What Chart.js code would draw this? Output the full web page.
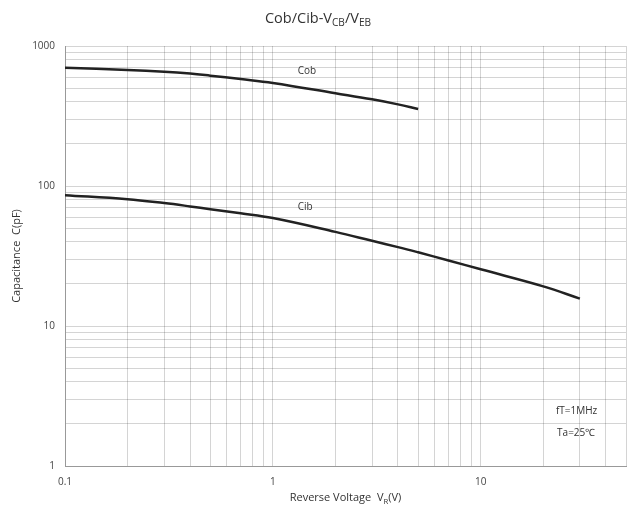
<!DOCTYPE html>
<html>
<head>
<meta charset="utf-8">
<script src="https://cdn.jsdelivr.net/npm/chart.js@4.4.1/dist/chart.umd.min.js"></script>
<style>
  html, body { margin: 0; padding: 0; background: #fff; }
  .wrap { position: relative; width: 631px; height: 509px; }
  canvas { position: absolute; left: 0; top: 0; }
  .title {
    position: absolute; left: 0; width: 636px; top: 8px; text-align: center;
    font: 14.5px "Open Sans", sans-serif; color: #333;
  }
  .xtitle {
    position: absolute; left: 65px; width: 561px; top: 489px; text-align: center;
    font: 11px "Open Sans", sans-serif; color: #333;
  }
  sub { font-size: 70%; vertical-align: -3px; line-height: 0; }
</style>
</head>
<body>
<div class="wrap">
  <canvas id="chart" width="631" height="509"></canvas>
  <div class="title">Cob/Cib-V<sub>CB</sub>/V<sub>EB</sub></div>
  <div class="xtitle">Reverse Voltage&nbsp;&nbsp;V<sub>R</sub>(V)</div>
</div>
<script>
// Reverse voltage (V) and capacitance (pF)
const cobVoltage = [0.1, 0.2, 0.3, 0.4, 0.5, 0.7, 1, 2, 3, 4, 5];
const cobValues  = [700, 675, 655, 635, 614, 581, 545, 460, 416, 383, 355];

const cibVoltage = [0.1, 0.2, 0.3, 0.4, 0.5, 0.7, 1, 2, 3, 4, 5, 7, 10, 20, 30];
const cibValues  = [86, 80.5, 75.5, 71.5, 68.3, 63.8, 59, 47, 40.6, 36.6, 33.6, 29.4, 25.4, 19.2, 15.7];

const xTickLabels = [0.1, 1, 10];
const yTickLabels = [1, 10, 100, 1000];

const notes = [
  { text: 'Cob', x: 1.46, y: 660, align: 'center' },
  { text: 'Cib', x: 1.43, y: 71, align: 'center' },
  { text: 'fT=1MHz', x: 23, y: 2.45, align: 'left' },
  { text: 'Ta=25\u2103', x: 23.3, y: 1.72, align: 'left' },
];

function logTicks(min, max) {
  const out = [];
  for (let d = min; d < max * 1.0001; d *= 10) {
    for (let k = 1; k < 10; k++) {
      const v = +(d * k).toPrecision(6);
      if (v >= min * 0.9999 && v <= max * 1.0001) out.push(v);
    }
  }
  return out;
}

const toPoints = (xs, ys) => xs.map((x, i) => ({ x, y: ys[i] }));

const notesPlugin = {
  id: 'notes',
  afterDatasetsDraw(chart) {
    const { ctx, scales } = chart;
    ctx.save();
    ctx.font = '10px "Open Sans", sans-serif';
    ctx.fillStyle = '#333';
    ctx.textBaseline = 'middle';
    notes.forEach((n) => {
      ctx.textAlign = n.align;
      ctx.fillText(n.text, scales.x.getPixelForValue(n.x), scales.y.getPixelForValue(n.y));
    });
    ctx.restore();
  },
};

const gridColor = 'rgba(0,0,0,0.17)';
const tickFont = { family: '"Open Sans", sans-serif', size: 10 };

new Chart(document.getElementById('chart'), {
  type: 'line',
  data: {
    datasets: [
      {
        label: 'Cob',
        data: toPoints(cobVoltage, cobValues),
        borderColor: '#222',
        borderWidth: 2.5,
        pointRadius: 0,
        tension: 0.4,
        fill: false,
      },
      {
        label: 'Cib',
        data: toPoints(cibVoltage, cibValues),
        borderColor: '#222',
        borderWidth: 2.5,
        pointRadius: 0,
        tension: 0.4,
        fill: false,
      },
    ],
  },
  options: {
    responsive: false,
    animation: false,
    layout: { padding: { left: 10, right: 5, top: 46, bottom: 0 } },
    plugins: {
      legend: { display: false },
      tooltip: { enabled: false },
    },
    scales: {
      x: {
        type: 'logarithmic',
        min: 0.1,
        max: 50,
        afterBuildTicks: (s) => { s.ticks = logTicks(0.1, 50).map((v) => ({ value: v })); },
        afterFit: (s) => { s.height = 43; s.paddingLeft = 0; s.paddingRight = 0; },
        ticks: {
          autoSkip: false,
          maxRotation: 0,
          padding: 10,
          color: '#444',
          font: tickFont,
          callback: (v) => (xTickLabels.includes(v) ? String(v) : ''),
        },
        grid: { color: gridColor, drawTicks: false },
        border: { color: '#999' },
      },
      y: {
        type: 'logarithmic',
        min: 1,
        max: 1000,
        afterBuildTicks: (s) => { s.ticks = logTicks(1, 1000).map((v) => ({ value: v })); },
        afterFit: (s) => { s.width = 55; s.paddingTop = 0; s.paddingBottom = 0; },
        ticks: {
          autoSkip: false,
          padding: 10,
          color: '#444',
          font: tickFont,
          callback: (v) => (yTickLabels.includes(v) ? String(v) : ''),
        },
        title: {
          display: true,
          text: 'Capacitance  C(pF)',
          color: '#333',
          font: { family: '"Open Sans", sans-serif', size: 11 },
          padding: { top: 0, bottom: 0 },
        },
        grid: { color: gridColor, drawTicks: false },
        border: { color: '#999' },
      },
    },
  },
  plugins: [notesPlugin],
});
</script>
</body>
</html>
